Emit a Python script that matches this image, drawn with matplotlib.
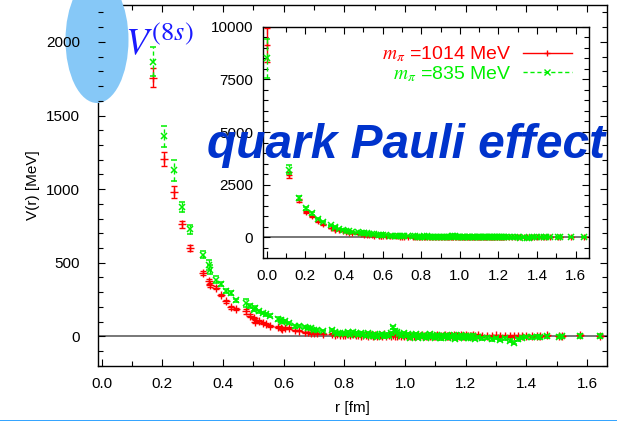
import matplotlib
matplotlib.use("Agg")
import matplotlib.pyplot as plt
from matplotlib.patches import Ellipse
from matplotlib.lines import Line2D
from matplotlib.ticker import MultipleLocator

plt.rcParams['font.family'] = ['Liberation Sans', 'DejaVu Sans']
plt.rcParams['mathtext.fontset'] = 'stix'

# distances r [fm] (shared by both pion masses)
r_fm = [0.000, 0.118, 0.168, 0.205, 0.237, 0.265, 0.290, 0.335, 0.355, 0.356,
        0.375, 0.393, 0.410, 0.427, 0.443, 0.474, 0.489, 0.503, 0.504, 0.517,
        0.530, 0.543, 0.556, 0.580, 0.592, 0.593, 0.604, 0.616, 0.638, 0.649,
        0.670, 0.681, 0.691, 0.701, 0.711, 0.730, 0.759, 0.768, 0.777, 0.786,
        0.795,
        0.803, 0.812, 0.820, 0.829, 0.838, 0.846, 0.855, 0.862, 0.870, 0.878,
        0.886, 0.893, 0.901, 0.909, 0.916, 0.924, 0.931, 0.938, 0.946, 0.953,
        0.960, 0.967, 0.974, 0.981, 0.988, 0.995, 1.002, 1.009, 1.016, 1.022,
        1.029, 1.036, 1.042, 1.049, 1.055, 1.062, 1.068, 1.075, 1.081, 1.087,
        1.094, 1.100, 1.106, 1.112, 1.118, 1.124, 1.131, 1.137, 1.143, 1.149,
        1.155, 1.160, 1.166, 1.172, 1.178, 1.184, 1.190, 1.195, 1.201, 1.207,
        1.213, 1.218, 1.224, 1.230, 1.240, 1.252, 1.270, 1.285, 1.300, 1.314,
        1.330, 1.347, 1.360, 1.372, 1.386, 1.400, 1.418, 1.435, 1.446, 1.468,
        1.508, 1.518, 1.577, 1.642]

# m_pi = 1014 MeV
v_1014 = [9150, 2970, 1757, 1205, 979, 760, 601, 431, 374, 351,
          331, 281, 238, 197, 186, 170, 141, 125, 100, 102,
          91, 85, 73, 64, 57, 50, 55, 55, 41, 40,
          27, 28, 23, 22, 20, 18, 18, 12, 14, 10,
          12,
          10, 14, 8, 16, 9, 12, 6, 11, 8, 5,
          7, 4, 10, 6, 12, 5, 13, 3, 8, 5,
          9, 6, 4, 10, 5, 3, 8, 2, 6, 4,
          5, 2, 7, 3, 9, 4, 1, 6, 3, 7,
          4, 2, 8, 3, 6, 1, 7, 4, 2, 6,
          3, 7, 2, 5, 4, 8, 3, 1, 7, 4,
          6, 2, 7, 3, 8, 4, 6, 2, 7, 3,
          5, 2, 4, 6, 3, 5, 2, 6, 4, 7,
          3, 5, 8, 6]
e_1014 = [800, 150, 65, 50, 40, 22, 18, 15, 15, 14,
          12, 10, 12, 8, 8, 15, 10, 9, 8, 8,
          7, 7, 7, 6, 6, 6, 6, 6, 5, 5,
          5, 5, 5, 5, 5, 4, 4, 4, 4, 4,
          4,
          4, 4, 4, 4, 4, 4, 4, 4, 4, 4,
          4, 4, 4, 4, 4, 4, 4, 4, 4, 4,
          4, 4, 4, 4, 4, 4, 4, 4, 4, 4,
          4, 4, 4, 4, 4, 4, 4, 4, 4, 4,
          4, 4, 4, 4, 4, 4, 4, 4, 4, 4,
          4, 4, 4, 4, 4, 4, 4, 4, 4, 4,
          5, 5, 5, 5, 5, 5, 5, 5, 5, 5,
          5, 5, 5, 5, 5, 5, 5, 5, 5, 5,
          6, 6, 7, 8]

# m_pi = 835 MeV
v_835 = [8500, 3210, 1866, 1360, 1127, 877, 726, 556, 487, 453,
         385, 356, 306, 295, 245, 227, 204, 182, 195, 170,
         159, 150, 141, 118, 114, 100, 102, 90, 68, 70,
         64, 57, 55, 46, 45, 40, 41, 30, 18, 25,
         20,
         18, 28, 8, 30, 20, 10, 25, 14, 4, 20,
         12, 0, 16, -6, 10, 18, 0, 12, 3, 20,
         62, 40, 28, 18, 6, 25, 2, 14, -10, 12,
         2, 15, -8, 10, -4, 8, -12, 4, 13, -6,
         6, -10, 10, 0, -14, 5, -6, 11, -11, 2,
         -6, 8, -16, 4, -9, 10, -3, -13, 5, -8,
         3, -12, 6, -18, -5, -13, -8, -20, -10, -24,
         -14, -28, -42, -20, -9, -4, -7, -2, -6, 0,
         -2, 0, 4, 2]
e_835 = [950, 200, 100, 72, 70, 35, 30, 25, 35, 30,
         22, 15, 14, 12, 12, 25, 14, 12, 12, 10,
         10, 10, 9, 12, 14, 10, 10, 9, 8, 8,
         8, 7, 7, 7, 7, 6, 6, 6, 6, 6,
         6,
         8, 8, 8, 8, 8, 8, 8, 8, 8, 8,
         8, 8, 8, 8, 8, 8, 8, 8, 8, 8,
         10, 10, 8, 8, 8, 8, 8, 8, 8, 8,
         8, 8, 8, 8, 8, 8, 8, 8, 8, 8,
         8, 8, 8, 8, 8, 8, 8, 8, 8, 8,
         8, 8, 8, 8, 8, 8, 8, 8, 8, 8,
         9, 9, 9, 9, 9, 9, 9, 9, 9, 9,
         10, 10, 12, 10, 9, 9, 9, 9, 9, 9,
         10, 10, 12, 14]

labels = [r'$m_\pi$ =1014 MeV', r'$m_\pi$ =835 MeV']
red = '#ff0000'
green = '#00f000'


def draw_data(ax, ms):
    ax.axhline(0, color='#777777', lw=1.4, zorder=1)
    ax.errorbar(r_fm, v_1014, yerr=e_1014, fmt='+', color=red, ms=ms,
                mew=1.0, elinewidth=1.0, capsize=2, capthick=1.0, zorder=3)
    eb = ax.errorbar(r_fm, v_835, yerr=e_835, fmt='x', color=green, ms=ms - 0.5,
                     mew=1.1, elinewidth=1.0, capsize=2, capthick=1.0, zorder=4)
    eb[2][0].set_linestyle((0, (3, 2)))


def style_ticks(ax, ypad, xpad):
    ax.tick_params(which='both', direction='in', top=True, right=True,
                   labelsize=11, width=0.8)
    ax.tick_params(axis='y', pad=ypad)
    ax.tick_params(axis='x', pad=xpad)
    ax.tick_params(which='major', length=5)
    ax.tick_params(which='minor', length=3.5)
    for s in ax.spines.values():
        s.set_linewidth(1.0)


fig = plt.figure(figsize=(6.17, 4.21), dpi=100)

# main panel
ax = fig.add_axes([0.159, 0.131, 0.825, 0.857])
draw_data(ax, 5.5)
ax.set_xlim(-0.012, 1.666)
ax.set_ylim(-200, 2250)
ax.xaxis.set_major_locator(MultipleLocator(0.2))
ax.xaxis.set_minor_locator(MultipleLocator(0.1))
ax.yaxis.set_major_locator(MultipleLocator(500))
ax.yaxis.set_minor_locator(MultipleLocator(100))
ax.xaxis.set_major_formatter(lambda v, p: f'{v:.1f}')
style_ticks(ax, 13, 8)
ax.set_xlabel('r [fm]', fontsize=11, labelpad=7)
ax.set_ylabel('V(r) [MeV]', fontsize=11, labelpad=4)
ax.yaxis.set_zorder(3)

# blue blob behind the V^(8s) label
blob = Ellipse((97 / 617, 1 - 40 / 421), 63 / 617, 126 / 421,
               transform=fig.transFigure, facecolor='#86c8f7',
               edgecolor='none', clip_on=False, zorder=2.6)
ax.add_patch(blob)

# inset
ax_in = fig.add_axes([0.426, 0.387, 0.529, 0.549])
draw_data(ax_in, 5)
ax_in.set_xlim(-0.02, 1.67)
ax_in.set_ylim(-1000, 10000)
ax_in.xaxis.set_major_locator(MultipleLocator(0.2))
ax_in.xaxis.set_minor_locator(MultipleLocator(0.1))
ax_in.yaxis.set_major_locator(MultipleLocator(2500))
ax_in.yaxis.set_minor_locator(MultipleLocator(500))
ax_in.xaxis.set_major_formatter(lambda v, p: f'{v:.1f}')
style_ticks(ax_in, 7, 8)

handles = [Line2D([], [], color=red, lw=1.0, marker='+', ms=5),
           Line2D([], [], color=green, lw=1.0, ls=(0, (3, 2)), marker='x', ms=4)]
leg = ax_in.legend(handles, labels, loc='upper right', markerfirst=False,
                   frameon=False, fontsize=14, handlelength=2.5,
                   handletextpad=0.6, labelspacing=0.0, numpoints=1,
                   borderaxespad=0.5)
for t, c in zip(leg.get_texts(), [red, green]):
    t.set_color(c)

fig.text(125 / 617, 1 - 55 / 421, r'$V^{(8s)}$', fontsize=27,
         color='#1a1aff', ha='left', va='baseline')
fig.text(207 / 617, 1 - 158 / 421, 'quark Pauli effect', fontsize=34.5,
         fontweight='bold', fontstyle='italic', color='#0033cc',
         ha='left', va='baseline', zorder=10)

fig.add_artist(Line2D([0, 1], [0.5 / 421, 0.5 / 421], color='#1e9bff',
                      lw=2, transform=fig.transFigure))

fig.savefig('out.png', dpi=100)
